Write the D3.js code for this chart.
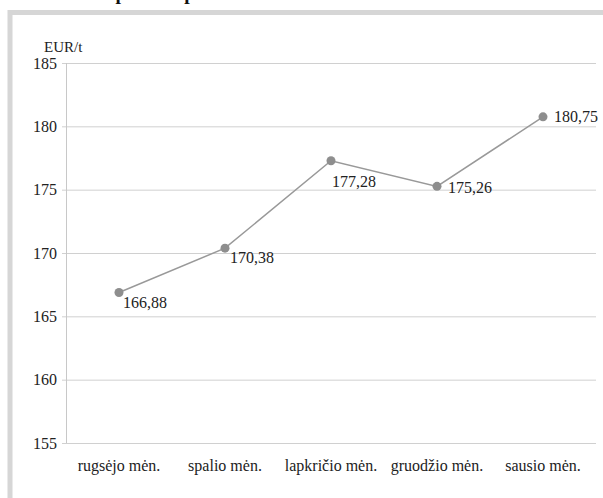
<!DOCTYPE html>
<html><head><meta charset="utf-8">
<script src="https://cdn.jsdelivr.net/npm/d3@7"></script>
<style>
body{margin:0;background:#fff;}
</style></head>
<body>
<svg id="c" width="603" height="498" style="display:block" font-family="Liberation Serif, DejaVu Serif, serif"></svg>
<script>
const title = "Žaliavinio pieno supirkimo kainos";
const unit = "EUR/t";
const categories = ["rugsėjo mėn.", "spalio mėn.", "lapkričio mėn.", "gruodžio mėn.", "sausio mėn."];
const values = [166.88, 170.38, 177.28, 175.26, 180.75];
const valueLabels = ["166,88", "170,38", "177,28", "175,26", "180,75"];
const yTicks = [155, 160, 165, 170, 175, 180, 185];

const svg = d3.select("#c");
const FF = "Liberation Serif, DejaVu Serif, serif";
const L = 66, R = 596, T = 63, B = 443;

// clipped title (cut off at the top edge, as in the reference)
svg.append("text").attr("x", 26).attr("y", 0)
  .attr("font-family", FF)
  .attr("font-size", 19.5).attr("font-weight", "bold").attr("fill", "#111")
  .text(title);

// frame
svg.append("rect").attr("x", 10).attr("y", 12.5).attr("width", 620).attr("height", 520)
  .attr("fill", "#fff").attr("stroke", "#d6d6d6").attr("stroke-width", 5);

const x = d3.scaleBand().domain(categories).range([L, R]);
const y = d3.scaleLinear().domain([155, 185]).range([B, T]);

// gridlines
svg.append("g").selectAll("line").data(yTicks).join("line")
  .attr("x1", L - 4).attr("x2", R).attr("y1", d => y(d) + 0.5).attr("y2", d => y(d) + 0.5)
  .attr("stroke", "#d0d0d0").attr("stroke-width", 1);
// vertical axis
svg.append("line").attr("x1", L + 0.5).attr("x2", L + 0.5).attr("y1", T).attr("y2", B)
  .attr("stroke", "#c8c8c8");

// y tick labels
svg.append("g").selectAll("text").data(yTicks).join("text")
  .attr("font-family", FF)
  .attr("x", L - 9).attr("y", d => y(d)).attr("dy", "0.35em")
  .attr("text-anchor", "end").attr("font-size", 16).attr("fill", "#222")
  .text(d => d);

svg.append("text").attr("font-family", FF).attr("x", 44).attr("y", 52)
  .attr("font-size", 15).attr("fill", "#222").text(unit);

// x labels
svg.append("g").selectAll("text").data(categories).join("text")
  .attr("font-family", FF)
  .attr("x", d => x(d) + x.bandwidth() / 2).attr("y", 471)
  .attr("text-anchor", "middle").attr("font-size", 16).attr("fill", "#222")
  .text(d => d);

const cx = (d, i) => x(categories[i]) + x.bandwidth() / 2;
const line = d3.line().x((d, i) => cx(d, i)).y(d => y(d));
svg.append("path").datum(values).attr("d", line)
  .attr("fill", "none").attr("stroke", "#999").attr("stroke-width", 1.5);

svg.append("g").selectAll("circle").data(values).join("circle")
  .attr("cx", cx).attr("cy", d => y(d)).attr("r", 4.5).attr("fill", "#8e8e8e");

const offs = [[4, 10], [5, 9], [1, 21], [11, 1], [11, 0]];
svg.append("g").selectAll("text").data(values).join("text")
  .attr("font-family", FF)
  .attr("x", (d, i) => cx(d, i) + offs[i][0])
  .attr("y", (d, i) => y(d) + offs[i][1]).attr("dy", "0.35em")
  .attr("font-size", 16).attr("fill", "#222")
  .text((d, i) => valueLabels[i]);
</script>
</body></html>
